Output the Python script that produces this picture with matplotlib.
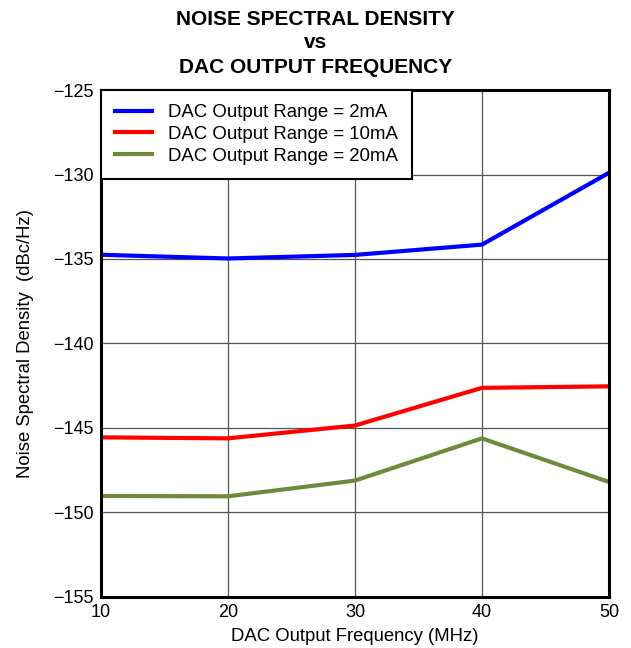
import matplotlib
matplotlib.use('Agg')
import matplotlib.pyplot as plt

plt.rcParams['font.family'] = ['Liberation Sans', 'DejaVu Sans']

freq = [10, 20, 30, 40, 50]
nsd_2ma = [-134.75, -134.97, -134.76, -134.15, -129.9]
nsd_10ma = [-145.56, -145.62, -144.86, -142.63, -142.54]
nsd_20ma = [-149.03, -149.05, -148.12, -145.62, -148.2]

title_lines = ['NOISE SPECTRAL DENSITY', 'vs', 'DAC OUTPUT FREQUENCY']

fig = plt.figure(figsize=(6.31, 6.48), dpi=100)
ax = fig.add_axes([0.160, 0.079, 0.805, 0.782])

ax.plot(freq, nsd_2ma, color='#0000ff', lw=3, label='DAC Output Range = 2mA')
ax.plot(freq, nsd_10ma, color='#ff0000', lw=3, label='DAC Output Range = 10mA')
ax.plot(freq, nsd_20ma, color='#6e8b3d', lw=3, label='DAC Output Range = 20mA')

ax.set_xlim(10, 50)
ax.set_ylim(-155, -125)
ax.set_xticks([10, 20, 30, 40, 50])
ax.set_yticks([-155, -150, -145, -140, -135, -130, -125])
ax.grid(True, color='#555555', lw=0.9)
ax.tick_params(labelsize=13, length=0, pad=5)
for s in ax.spines.values():
    s.set_linewidth(2.2)

ax.set_xlabel('DAC Output Frequency (MHz)', fontsize=13.3, labelpad=5)
ax.set_ylabel('Noise Spectral Density  (dBc/Hz)', fontsize=13.3, labelpad=14)

# title: three centred bold lines
for txt, yb in zip(title_lines, [0.9614, 0.926, 0.888]):
    fig.text(0.5, yb, txt, ha='center', va='baseline', fontsize=15,
             fontweight='bold')

leg = ax.legend(loc='upper left', fontsize=13.4, frameon=True, fancybox=False,
                borderaxespad=0, handlelength=2.0, handletextpad=0.85,
                labelspacing=0.26, borderpad=0.75)
leg.get_frame().set_edgecolor('black')
leg.get_frame().set_linewidth(1.5)
leg.get_frame().set_alpha(1)

fig.savefig('out.png', dpi=100)
